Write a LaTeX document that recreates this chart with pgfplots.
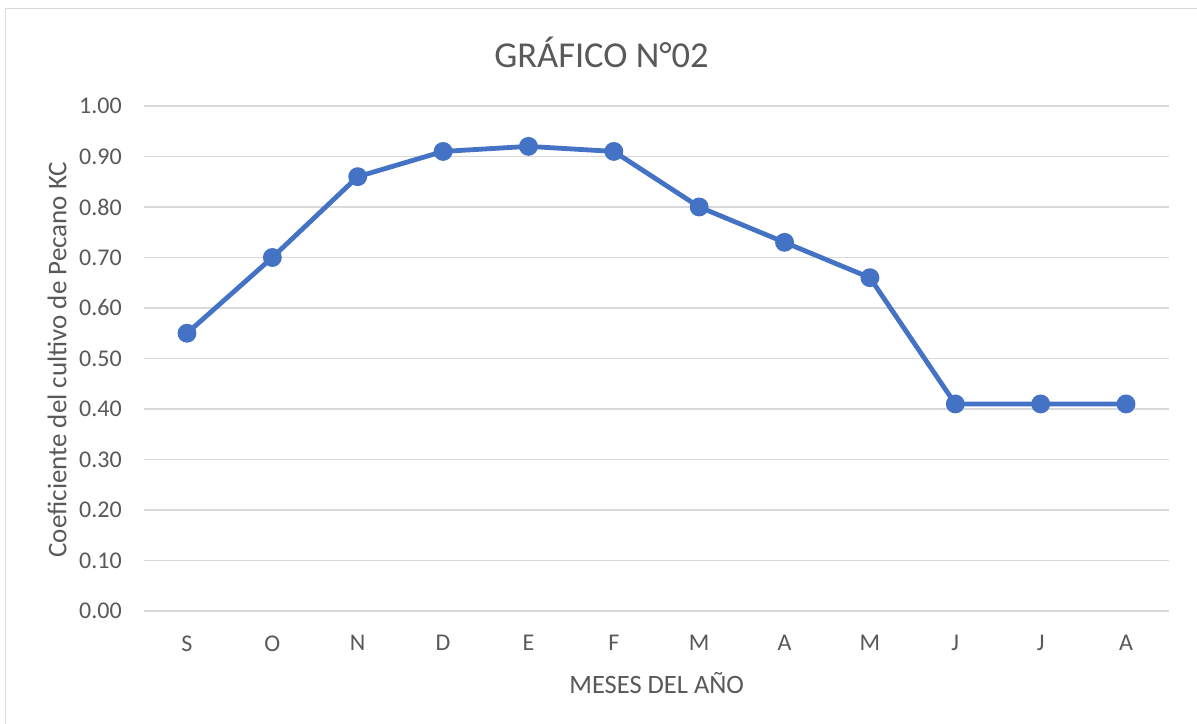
\documentclass[border=0pt]{standalone}
\usepackage{fontspec}
\setmainfont{Carlito}
\usepackage{pgfplots}
\pgfplotsset{compat=1.18}
\definecolor{txt}{HTML}{595959}
\definecolor{gridc}{HTML}{D9D9D9}
\definecolor{ser}{HTML}{4472C4}
\begin{document}
\begin{tikzpicture}[x=1bp,y=1bp]
\useasboundingbox (0,0) rectangle (1197,724);
\fill[white] (0,0) rectangle (1197,724);
\draw[gridc,line width=1.5bp] (5.5,0) -- (5.5,715.5) -- (1197,715.5);
\begin{axis}[
  at={(144.3bp,113bp)}, anchor=south west,
  scale only axis, width=1024.4bp, height=505bp,
  xmin=-0.5, xmax=11.5, ymin=0, ymax=1,
  axis line style={draw=none},
  xtick={0,...,11},
  xticklabels={S,O,N,D,E,F,M,A,M,J,J,A},
  ytick={0,0.1,...,1.0},
  yticklabel={\pgfmathprintnumber[fixed,fixed zerofill,precision=2]{\tick}},
  /pgf/number format/assume math mode=true,
  major tick length=0pt,
  xmajorgrids=false, ymajorgrids=true,
  grid style={draw=gridc,line width=1.3bp},
  ticklabel style={font=\fontsize{24bp}{29bp}\selectfont, text=txt},
  yticklabel style={xshift=-19bp},
  xticklabel style={yshift=-21bp},
  clip=false,
]
\addplot[ser, line width=4.8bp, mark=*, mark size=7bp, mark options={fill=ser, draw=ser}] coordinates {
(0,0.55) (1,0.70) (2,0.86) (3,0.91) (4,0.92) (5,0.91) (6,0.80) (7,0.73) (8,0.66) (9,0.41) (10,0.41) (11,0.41)};
\end{axis}
\node[text=txt, font=\fontsize{36.5bp}{43bp}\selectfont] at (601.5,672) {GRÁFICO N°02};
\node[text=txt, font=\fontsize{27bp}{32bp}\selectfont, rotate=90] at (57,364) {Coeficiente del cultivo de Pecano KC};
\node[text=txt, font=\fontsize{26.5bp}{32bp}\selectfont] at (656.7,41) {MESES DEL AÑO};
\end{tikzpicture}
\end{document}
